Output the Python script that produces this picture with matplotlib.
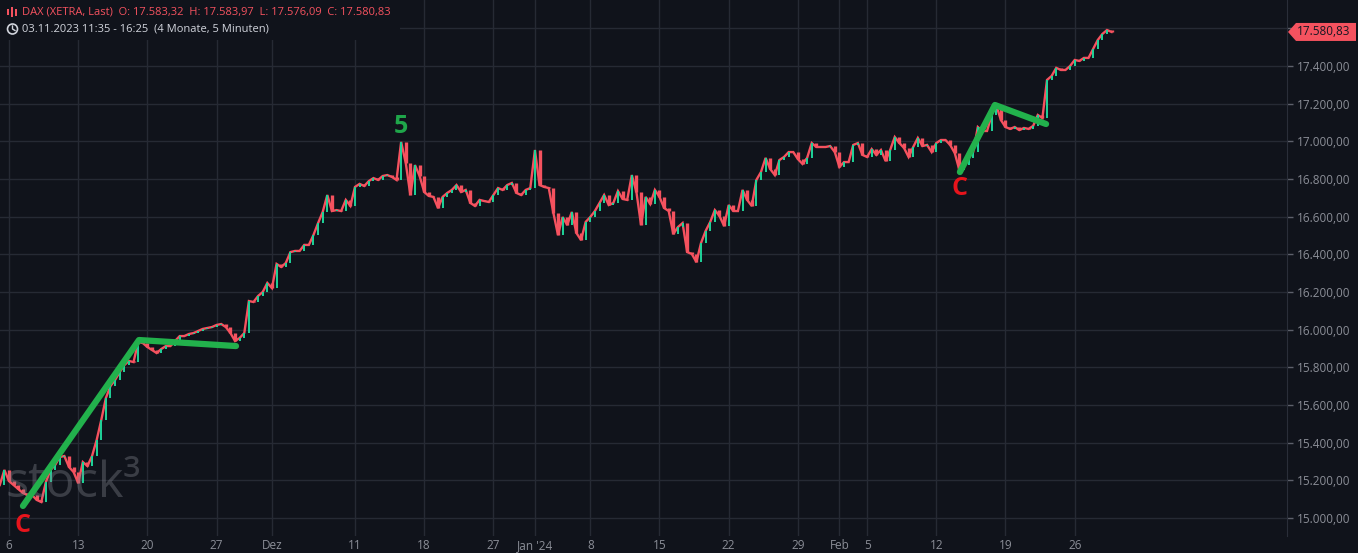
import numpy as np
import pandas as pd
import matplotlib
matplotlib.use("Agg")
import matplotlib.pyplot as plt
from matplotlib.patches import Polygon, Circle, Rectangle
from matplotlib.lines import Line2D
from matplotlib.ticker import FixedLocator, FuncFormatter

# %%
# DAX 5-Minuten-Verlauf, abgelesen als Schlusskurs je 1/3 Handelstag
start_date = "2023-11-03"
end_date = "2024-03-01"
holidays = ["2023-12-25", "2023-12-26", "2024-01-01"]
first_idx = -2 / 3          # Nov 3 mittags
step = 1 / 3

closes = [
    15175, 15255, 15196, 15175, 15154, 15133, 15122, 15122, 15096, 15085,
    15191, 15255, 15281, 15324, 15329, 15271, 15244, 15186, 15297, 15276,
    15329, 15414, 15520, 15637, 15701, 15733, 15775, 15812, 15834, 15828,
    15935, 15929, 15908, 15892, 15876, 15897, 15913, 15913, 15940, 15966,
    15966, 15977, 15982, 15993, 16004, 16009, 16014, 16025, 16030, 16014,
    15982, 15940, 15956, 15982, 16152, 16147, 16179, 16200, 16248, 16221,
    16349, 16333, 16354, 16412, 16418, 16418, 16450, 16450, 16503, 16566,
    16625, 16715, 16630, 16635, 16630, 16689, 16657, 16758, 16774, 16763,
    16789, 16805, 16795, 16816, 16821, 16811, 16795, 16997, 16885, 16715,
    16874, 16816, 16731, 16710, 16705, 16646, 16705, 16726, 16742, 16768,
    16731, 16742, 16673, 16657, 16689, 16683, 16678, 16715, 16752, 16742,
    16768, 16779, 16726, 16715, 16742, 16752, 16954, 16768, 16758, 16752,
    16620, 16503, 16598, 16556, 16625, 16513, 16476, 16572, 16598, 16630,
    16673, 16715, 16662, 16673, 16736, 16694, 16689, 16821, 16731, 16556,
    16705, 16667, 16742, 16705, 16646, 16630, 16508, 16545, 16566, 16412,
    16402, 16359, 16460, 16524, 16572, 16635, 16604, 16551, 16662, 16630,
    16630, 16742, 16689, 16657, 16795, 16837, 16912, 16853, 16821, 16901,
    16917, 16943, 16943, 16906, 16880, 16912, 16991, 16970, 16970, 16970,
    16975, 16943, 16864, 16890, 16890, 16981, 16991, 16928, 16917, 16959,
    16928, 16954, 16896, 16954, 17023, 16991, 16965, 16917, 16970, 17018,
    16975, 16981, 16943, 16991, 17007, 17007, 16981, 16938, 16848, 16874,
    16912, 16943, 17076, 17055, 17055, 17140, 17193, 17113, 17076, 17066,
    17076, 17060, 17071, 17066, 17082, 17140, 17124, 17326, 17347, 17390,
    17379, 17379, 17400, 17432, 17427, 17443, 17443, 17490, 17538, 17570,
    17591, 17580.83,
]

tick_dates = ["2023-11-06", "2023-11-13", "2023-11-20", "2023-11-27", "2023-12-01",
              "2023-12-11", "2023-12-18", "2023-12-27", "2024-01-02", "2024-01-08",
              "2024-01-15", "2024-01-22", "2024-01-29", "2024-02-01", "2024-02-05",
              "2024-02-12", "2024-02-19", "2024-02-26"]
tick_labels = ["6", "13", "20", "27", "Dez", "11", "18", "27", "Jan '24", "8",
               "15", "22", "29", "Feb", "5", "12", "19", "26"]

price_ticks = [15000, 15200, 15400, 15600, 15800, 16000, 16200, 16400,
               16600, 16800, 17000, 17200, 17400, 17600]

# Wellen-Markierungen (Zeitpunkt, Kurs)
wave1_times = ["2023-11-07 09:05", "2023-11-17 12:20", "2023-11-28 12:25"]
wave1_prices = [15064, 15945, 15913]
wave2_times = ["2024-02-13 15:00", "2024-02-16 11:00", "2024-02-21 16:55"]
wave2_prices = [16837, 17193, 17092]

header_1 = "DAX (XETRA, Last)  O: 17.583,32  H: 17.583,97  L: 17.576,09  C: 17.580,83"
header_2 = "03.11.2023 11:35 - 16:25  (4 Monate, 5 Minuten)"

# %%
BG = "#10131b"
GRID = "#262a34"
TXT = "#8b8e97"
RED = "#f5525f"
GREEN = "#1fd49a"
WAVE = "#22b14c"

days = pd.bdate_range(start_date, end_date)
days = days[~days.isin(pd.to_datetime(holidays))]
day_pos = {d: i - 1 for i, d in enumerate(days)}   # Nov 6 -> 0


def trade_idx(ts):
    ts = pd.Timestamp(ts)
    frac = (ts.hour + ts.minute / 60 - 9.0) / 8.5
    return day_pos[ts.normalize()] + frac


def de_fmt(v, pos=None):
    if v >= 17600:
        return ""
    s = f"{v:,.2f}"
    return s.replace(",", "X").replace(".", ",").replace("X", ".")


plt.rcParams['font.family'] = ['Open Sans', 'DejaVu Sans']

W, H = 1358, 553
fig = plt.figure(figsize=(W / 100, H / 100), dpi=100, facecolor=BG)
ax = fig.add_axes([0, 17 / H, 1287 / W, 1 - 17 / H], facecolor=BG)

x = first_idx + step * np.arange(len(closes))
c = np.array(closes, dtype=float)
o = np.r_[c[0], c[:-1]]
up = c >= o

ax.plot(x, c, color=RED, lw=1.7, zorder=3, solid_joinstyle="miter")
ax.vlines(x[~up], o[~up], c[~up], color=RED, lw=2.4, zorder=4)
ax.vlines(x[up], o[up], c[up], color=GREEN, lw=1.4, zorder=4)

# Wellen
w1x = [trade_idx(t) for t in wave1_times]
w2x = [trade_idx(t) for t in wave2_times]
for wx, wp in ((w1x, wave1_prices), (w2x, wave2_prices)):
    ax.plot(wx, wp, color=WAVE, lw=4.5, solid_capstyle="round", zorder=6)

ax.annotate("C", (w1x[0], wave1_prices[0]), xytext=(0, -5), textcoords="offset points",
            ha="center", va="top", color="#e8141c", fontsize=18, fontweight="bold", zorder=7)
ax.annotate("C", (w2x[0], wave2_prices[0]), xytext=(0, -3), textcoords="offset points",
            ha="center", va="top", color="#e8141c", fontsize=18, fontweight="bold", zorder=7)
peak = int(np.argmax(c[:120]))
ax.annotate("5", (x[peak], c[peak]), xytext=(0, 2), textcoords="offset points",
            ha="center", va="bottom", color="#1fa64a", fontsize=18, fontweight="bold", zorder=7)

# Achsen
ax.set_xlim(-0.65, 92.34)
ax.set_ylim(14904.4, 17750.5)
ax.xaxis.set_major_locator(FixedLocator([day_pos[pd.Timestamp(d)] for d in tick_dates]))
ax.set_xticklabels(tick_labels)
ax.yaxis.set_major_locator(FixedLocator(price_ticks))
ax.yaxis.set_major_formatter(FuncFormatter(de_fmt))
ax.yaxis.tick_right()
ax.grid(True, color=GRID, lw=1.0)
ax.set_axisbelow(True)
for side in ("top", "left", "bottom"):
    ax.spines[side].set_visible(False)
ax.spines["right"].set_color("#2a2e39")
ax.tick_params(axis="y", colors=TXT, labelsize=8.5, length=4, width=1, pad=3)
ax.tick_params(axis="x", colors=TXT, labelsize=8.5, length=0, pad=2)
ax.tick_params(axis="y", color="#5d606b")

# Wasserzeichen
ax.text(0.004, 0.072, "stock³", transform=ax.transAxes, fontsize=35, color="#80838c",
        alpha=0.38, ha="left", va="baseline", zorder=5)

# Kopfzeile
fig.patches.append(Rectangle((0, 1 - 40 / H), 400 / W, 40 / H, transform=fig.transFigure,
                             facecolor=BG, edgecolor="none", zorder=10))
for i, (h_, dx) in enumerate(((6, 0), (10, 4), (7, 8))):
    fig.patches.append(Rectangle(((7 + dx) / W, 1 - (17 - (10 - h_) / 2) / H), 2 / W, h_ / H,
                                 transform=fig.transFigure, facecolor=RED, edgecolor="none", zorder=11))
fig.text(22 / W, 1 - 12.5 / H, header_1, color=RED, fontsize=8, va="center", ha="left", zorder=12)
# Uhr-Symbol in Pixelkoordinaten
cx, cy = 12.5, H - 29
fig.patches.append(Circle((cx, cy), 5, transform=None, fill=False,
                          edgecolor="#d1d4dc", lw=1.2, zorder=11))
fig.lines.append(Line2D([cx, cx, cx + 2.5], [cy + 3, cy, cy - 1.5], transform=None,
                        color="#d1d4dc", lw=1.0, zorder=12))
fig.text(22 / W, 1 - 29 / H, header_2, color="#d1d4dc", fontsize=8, va="center", ha="left", zorder=12)

# Kursmarke
fig.canvas.draw()
yl = ax.transData.transform((0, c[-1]))[1]
xl = ax.transAxes.transform((1, 0))[0]
tag = Polygon([(xl + 1, yl), (xl + 9, yl + 9), (W - 2, yl + 9), (W - 2, yl - 9), (xl + 9, yl - 9)],
              closed=True, transform=None, facecolor=RED, edgecolor="none", zorder=20)
fig.patches.append(tag)
fig.text((xl + 10) / W, yl / H, de_fmt(c[-1]), color="#131722", fontsize=8.5,
         va="center", ha="left", zorder=21)

fig.savefig("out.png", dpi=100, facecolor=BG)
